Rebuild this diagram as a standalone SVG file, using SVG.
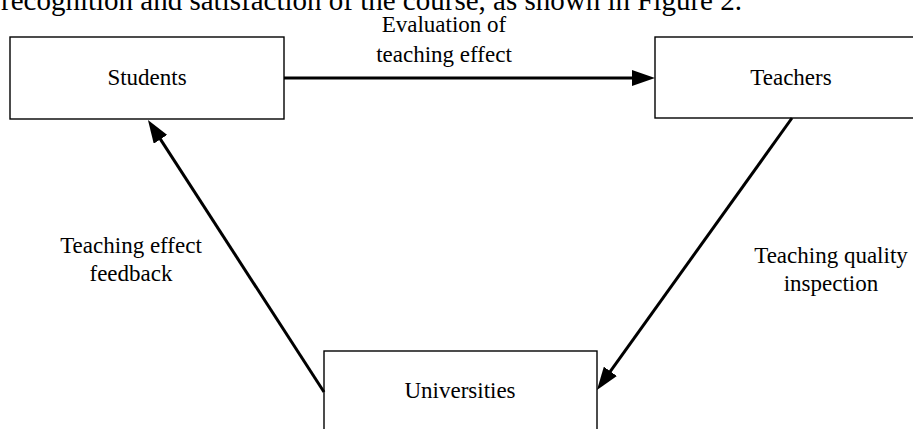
<svg xmlns="http://www.w3.org/2000/svg" width="913" height="429" viewBox="0 0 913 429">
<style>
text{font-family:"Liberation Serif","Times New Roman",serif;fill:#000}
.lbl{font-size:23px;text-anchor:middle}
.box{fill:#fff;stroke:#000;stroke-width:1.4}
.conn{stroke:#000;stroke-width:3;fill:none}
</style>
<defs>
<marker id="ah" markerUnits="userSpaceOnUse" markerWidth="24" markerHeight="16" refX="13" refY="8" orient="auto">
<path d="M0,0 L23,8 L0,16 Z" fill="#000"/>
</marker>
</defs>
<rect width="913" height="429" fill="#fff"/>
<text x="1" y="10" style="font-size:29px">recognition and satisfaction of the course, as shown in Figure 2.</text>
<g id="students"><rect class="box" x="10" y="37" width="274" height="82"/><text class="lbl" x="147" y="85">Students</text></g>
<g id="teachers"><rect class="box" x="655" y="37" width="274" height="81"/><text class="lbl" x="791" y="85">Teachers</text></g>
<g id="universities"><rect class="box" x="324" y="351" width="273" height="90"/><text class="lbl" x="460" y="398">Universities</text></g>
<g id="connectors">
<line class="conn" x1="284" y1="78" x2="645" y2="78" marker-end="url(#ah)"/>
<line class="conn" x1="324" y1="392" x2="153.4" y2="128.4" marker-end="url(#ah)"/>
<line class="conn" x1="792" y1="118" x2="602.8" y2="381.9" marker-end="url(#ah)"/>
</g>
<g id="labels">
<text class="lbl" x="444" y="32">Evaluation of</text>
<text class="lbl" x="444" y="62">teaching effect</text>
<text class="lbl" x="131" y="253">Teaching effect</text>
<text class="lbl" x="131" y="281">feedback</text>
<text class="lbl" x="831" y="263">Teaching quality</text>
<text class="lbl" x="831" y="291">inspection</text>
</g>
</svg>
